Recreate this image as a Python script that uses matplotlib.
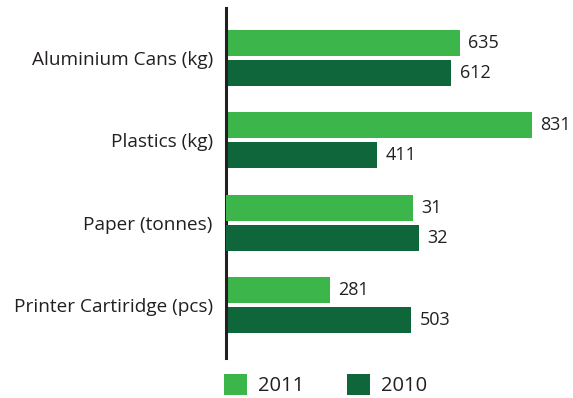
import matplotlib
matplotlib.use("Agg")
import matplotlib.pyplot as plt
from matplotlib.patches import Patch

plt.rcParams['font.family'] = ['Open Sans', 'DejaVu Sans']

categories = ["Aluminium Cans (kg)", "Plastics (kg)", "Paper (tonnes)", "Printer Cartiridge (pcs)"]
series_names = ["2011", "2010"]
values_2011 = [635, 831, 31, 281]
values_2010 = [612, 411, 32, 503]
# Paper is measured in tonnes, so it is drawn against its own x scale
own_scale = [False, False, True, False]

colors = {"2011": "#3cb54a", "2010": "#0f663a"}
text_color = "#231f20"

W, H = 573, 398
fig = plt.figure(figsize=(W / 100, H / 100), dpi=100)
ax_left, ax_right, ax_top, ax_bottom = 226, 573, 8, 358
ax = fig.add_axes([ax_left / W, 1 - ax_bottom / H, (ax_right - ax_left) / W, (ax_bottom - ax_top) / H])
ax_t = ax.twiny()
ax_t.axis('off')

xmax_main = 942
xmax_tonnes = 57.5
ax.set_xlim(0, xmax_main)
ax_t.set_xlim(0, xmax_tonnes)
for a in (ax, ax_t):
    a.set_ylim(3.645, -0.61)

bar_h = 0.316
off = 0.182
for i, cat in enumerate(categories):
    target = ax_t if own_scale[i] else ax
    for v, name, dy in ((values_2011[i], "2011", -off), (values_2010[i], "2010", off)):
        target.barh(i + dy, v, height=bar_h, color=colors[name], linewidth=0)
        target.annotate(str(v), xy=(v, i + dy), xytext=(6, 0), textcoords='offset points',
                        va='center', ha='left', fontsize=13, color=text_color)

ax.set_yticks(range(len(categories)))
ax.set_yticklabels(categories, fontsize=13.7, color=text_color)
ax.tick_params(axis='y', length=0, pad=9.5)
ax.set_xticks([])
for s in ("top", "right", "bottom"):
    ax.spines[s].set_visible(False)
ax.spines["left"].set_color("#231f20")
ax.spines["left"].set_linewidth(2.2)

handles = [Patch(facecolor=colors[n], edgecolor='none') for n in series_names]
leg = fig.legend(handles, series_names, loc='lower left', bbox_to_anchor=(224 / W, 2 / H),
                 ncol=2, frameon=False, fontsize=14.5, handlelength=1.15, handleheight=1.25,
                 handletextpad=0.55, columnspacing=2.1, borderpad=0, borderaxespad=0)
for t in leg.get_texts():
    t.set_color(text_color)

fig.savefig("out.png", dpi=100)
